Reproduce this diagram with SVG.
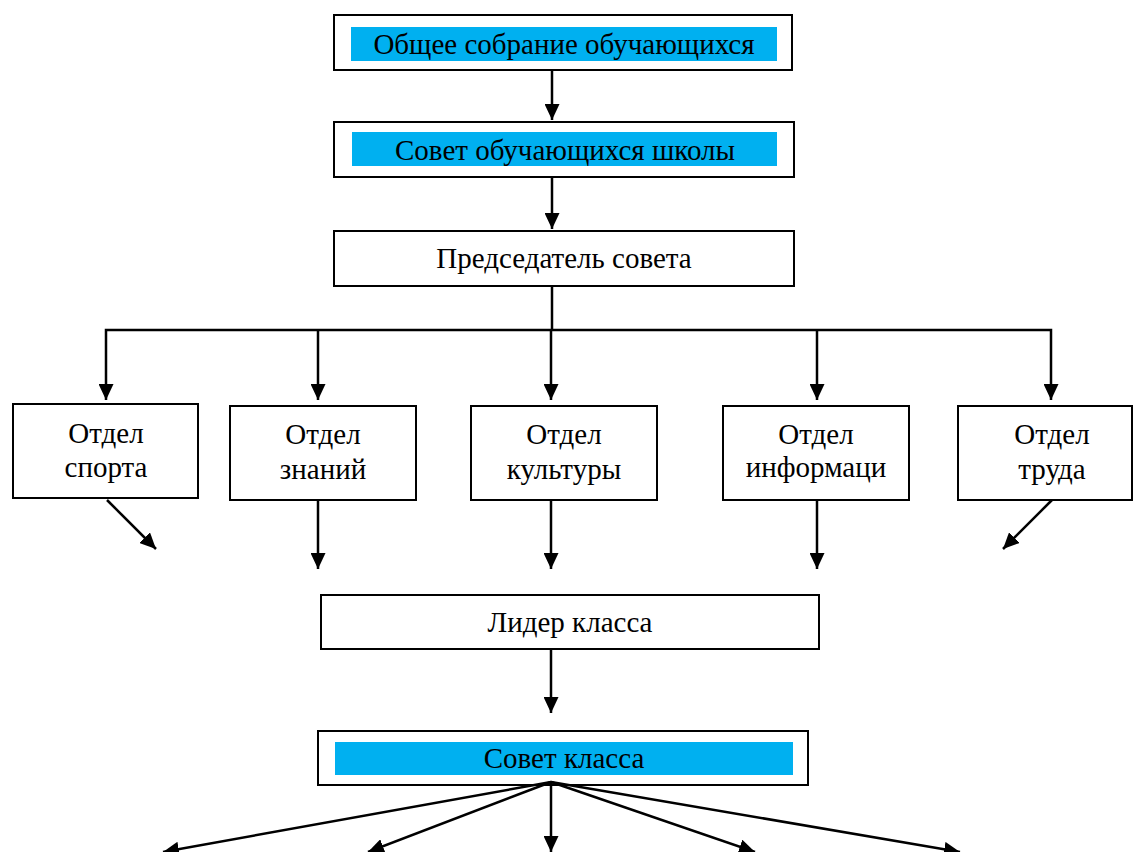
<svg xmlns="http://www.w3.org/2000/svg" width="1133" height="852" viewBox="0 0 1133 852">
<style>
.box{fill:#fff;stroke:#000;stroke-width:2}
.hl{fill:#00b0f0}
.t{font-family:"Liberation Serif","Times New Roman",serif;font-size:29px;fill:#000;text-anchor:middle}
.c{stroke:#000;stroke-width:2.5;fill:none;stroke-linejoin:miter}
</style>
<defs>
<marker id="ah" viewBox="0 0 16 15" refX="16" refY="7.5" markerWidth="16" markerHeight="15" orient="auto-start-reverse" markerUnits="userSpaceOnUse">
<path d="M0,0 L16,7.5 L0,15 z" fill="#000"/>
</marker>
</defs>
<rect width="1133" height="852" fill="#fff"/>
<g id="n1"><rect class="box" x="334" y="15" width="458" height="55"/><rect class="hl" x="351" y="27" width="426" height="34"/><text class="t" x="564" y="54">Общее собрание обучающихся</text></g>
<g id="n2"><rect class="box" x="334" y="122" width="460" height="55"/><rect class="hl" x="352" y="132" width="425" height="34"/><text class="t" x="565" y="160">Совет обучающихся школы</text></g>
<g id="n3"><rect class="box" x="334" y="231" width="460" height="55"/><text class="t" x="564" y="268">Председатель совета</text></g>
<g id="d1"><rect class="box" x="13" y="404" width="185" height="94"/><text class="t" x="106" y="443">Отдел</text><text class="t" x="106" y="477">спорта</text></g>
<g id="d2"><rect class="box" x="230" y="406" width="186" height="94"/><text class="t" x="323" y="444">Отдел</text><text class="t" x="323" y="479">знаний</text></g>
<g id="d3"><rect class="box" x="471" y="406" width="186" height="94"/><text class="t" x="564" y="444">Отдел</text><text class="t" x="564" y="479">культуры</text></g>
<g id="d4"><rect class="box" x="723" y="406" width="186" height="94"/><text class="t" x="816" y="444">Отдел</text><text class="t" x="816" y="477">информаци</text></g>
<g id="d5"><rect class="box" x="958" y="406" width="174" height="94"/><text class="t" x="1052" y="444">Отдел</text><text class="t" x="1052" y="479">труда</text></g>
<g id="n4"><rect class="box" x="321" y="595" width="498" height="54"/><text class="t" x="570" y="632">Лидер класса</text></g>
<g id="n5"><rect class="box" x="318" y="731" width="490" height="54"/><rect class="hl" x="335" y="742" width="458" height="33"/><text class="t" x="564" y="768">Совет класса</text></g>
<g id="connectors">
<line class="c" x1="552" y1="70" x2="552" y2="120" marker-end="url(#ah)"/>
<line class="c" x1="552" y1="177" x2="552" y2="229" marker-end="url(#ah)"/>
<line class="c" x1="552" y1="286" x2="552" y2="330"/>
<polyline class="c" points="106,400 106,330 1051,330 1051,400" marker-start="url(#ah)" marker-end="url(#ah)"/>
<line class="c" x1="318" y1="330" x2="318" y2="400" marker-end="url(#ah)"/>
<line class="c" x1="551" y1="330" x2="551" y2="400" marker-end="url(#ah)"/>
<line class="c" x1="817" y1="330" x2="817" y2="400" marker-end="url(#ah)"/>
<line class="c" x1="107" y1="500" x2="156" y2="549" marker-end="url(#ah)"/>
<line class="c" x1="1052" y1="500" x2="1003" y2="549" marker-end="url(#ah)"/>
<line class="c" x1="318" y1="500" x2="318" y2="569" marker-end="url(#ah)"/>
<line class="c" x1="551" y1="500" x2="551" y2="569" marker-end="url(#ah)"/>
<line class="c" x1="817" y1="500" x2="817" y2="569" marker-end="url(#ah)"/>
<line class="c" x1="551" y1="649" x2="551" y2="713" marker-end="url(#ah)"/>
<line class="c" x1="551" y1="782" x2="163" y2="852" marker-end="url(#ah)"/>
<line class="c" x1="551" y1="782" x2="368" y2="852" marker-end="url(#ah)"/>
<line class="c" x1="551" y1="782" x2="551" y2="852" marker-end="url(#ah)"/>
<line class="c" x1="551" y1="782" x2="755" y2="852" marker-end="url(#ah)"/>
<line class="c" x1="551" y1="782" x2="960" y2="852" marker-end="url(#ah)"/>
</g>
</svg>
